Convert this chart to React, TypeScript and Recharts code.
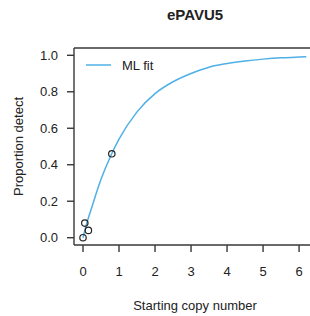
import {
  ComposedChart,
  Line,
  Scatter,
  XAxis,
  YAxis,
  ReferenceLine,
} from "recharts";

// ML fit curve
const FIT_X = [0, 0.1, 0.25, 0.5, 0.75, 1, 1.5, 2, 2.5, 3, 3.5, 4, 4.5, 5, 5.5, 6, 6.2];
const FIT_Y = [0, 0.075, 0.17, 0.32, 0.44, 0.54, 0.69, 0.79, 0.855, 0.9, 0.935, 0.955, 0.969, 0.979, 0.986, 0.99, 0.992];

// observed detection proportions
const OBS_X = [0, 0.05, 0.15, 0.8];
const OBS_Y = [0, 0.08, 0.04, 0.46];

const X_TICKS = [0, 1, 2, 3, 4, 5, 6];
const Y_TICKS = [0, 0.2, 0.4, 0.6, 0.8, 1.0];

const FONT = "'Liberation Sans', Arial, sans-serif";
const BLUE = "#4FB0E6";
const AXIS = "#383838";
const INK = "#222222";

const fitData = FIT_X.map((x, i) => ({ x, y: FIT_Y[i] }));
const obsData = OBS_X.map((x, i) => ({ x, y: OBS_Y[i] }));

const Ring = (props: any) => (
  <circle cx={props.cx} cy={props.cy} r={3.2} fill="none" stroke={INK} strokeWidth={1.2} />
);

const YLabel = (props: any) => {
  const vb = props.viewBox;
  const cy = vb.y + vb.height / 2;
  return (
    <text
      x={18}
      y={cy}
      transform={`rotate(-90, 18, ${cy})`}
      textAnchor="middle"
      dominantBaseline="central"
      fontFamily={FONT}
      fontSize={13}
      fill={INK}
    >
      Proportion detect
    </text>
  );
};

export default function App() {
  return (
    <div
      style={{
        position: "absolute",
        left: 0,
        top: 0,
        width: 310,
        height: 316,
        overflow: "hidden",
        background: "#fff",
        fontFamily: FONT,
      }}
    >
      <div
        style={{
          position: "absolute",
          left: 74,
          width: 242,
          top: 6,
          textAlign: "center",
          fontWeight: "bold",
          fontSize: 15,
          color: INK,
        }}
      >
        ePAVU5
      </div>
      <ComposedChart
        width={316}
        height={316}
        margin={{ top: 48, right: 0, bottom: 0, left: 0 }}
      >
        <XAxis
          type="number"
          dataKey="x"
          domain={[-0.25, 6.47]}
          ticks={X_TICKS}
          allowDataOverflow
          height={71}
          tickSize={7}
          tickMargin={15}
          stroke={AXIS}
          strokeWidth={1.4}
          tick={{ fill: INK, fontSize: 13, fontFamily: FONT }}
          label={{
            value: "Starting copy number",
            position: "insideBottom",
            offset: 6,
            fill: INK,
            fontSize: 13,
            fontFamily: FONT,
          }}
        />
        <YAxis
          type="number"
          dataKey="y"
          domain={[-0.04, 1.04]}
          ticks={Y_TICKS}
          allowDataOverflow
          width={74}
          tickSize={7}
          tickMargin={9}
          stroke={AXIS}
          strokeWidth={1.4}
          tickFormatter={(v: number) => v.toFixed(1)}
          tick={{ fill: INK, fontSize: 13, fontFamily: FONT }}
          label={{ content: YLabel }}
        />
        <ReferenceLine y={1.04} stroke={AXIS} strokeWidth={1.4} ifOverflow="visible" />
        <Line
          data={fitData}
          dataKey="y"
          type="monotone"
          stroke={BLUE}
          strokeWidth={1.5}
          dot={false}
          activeDot={false}
          isAnimationActive={false}
        />
        <Scatter data={obsData} dataKey="y" shape={Ring} isAnimationActive={false} />
      </ComposedChart>
      <svg
        style={{ position: "absolute", left: 0, top: 0 }}
        width={310}
        height={316}
      >
        <line x1={86} y1={65} x2={111} y2={65} stroke={BLUE} strokeWidth={1.5} />
        <text
          x={122}
          y={65}
          dominantBaseline="central"
          fontFamily={FONT}
          fontSize={13}
          fill={INK}
        >
          ML fit
        </text>
      </svg>
    </div>
  );
}
